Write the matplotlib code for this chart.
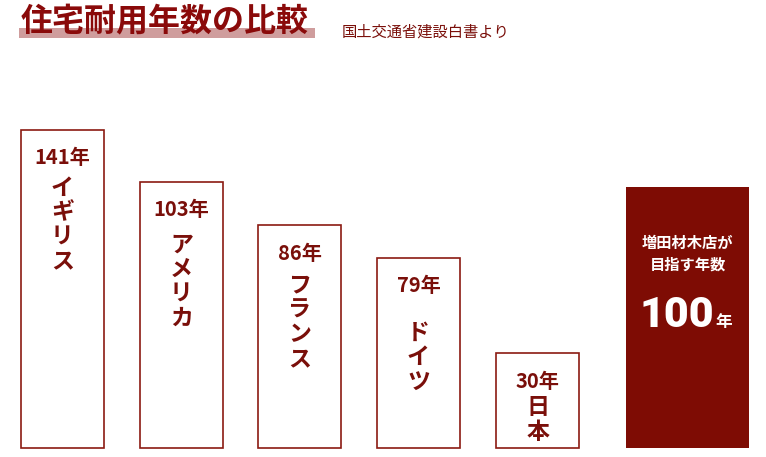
import matplotlib.pyplot as plt
from matplotlib.patches import Rectangle

plt.rcParams['font.family'] = ['Noto Sans CJK JP', 'DejaVu Sans']

countries = ["イギリス", "アメリカ", "フランス", "ドイツ", "日本"]
years = [141, 103, 86, 79, 30]
# drawn heights as they appear in the picture (not to scale with years)
bar_heights = [318, 266, 223, 190, 95]
goal_years = 100
goal_height = 261
goal_caption = ["増田材木店が", "目指す年数"]

dark_red = "#7e0c04"
text_red = "#7a0f0a"

fig = plt.figure(figsize=(7.66, 4.57), dpi=100)
ax = fig.add_axes([0, 0, 1, 1])
ax.set_xlim(0, 766)
ax.set_ylim(-9, 448)
ax.axis("off")

lefts = [21, 140, 258, 377, 496]
width = 83
ax.bar(lefts, bar_heights, width=width, align="edge", color="white",
       edgecolor="#8b1a12", linewidth=1.2)
ax.bar([626], [goal_height], width=123, align="edge", color=dark_red,
       edgecolor=dark_red, linewidth=0)

name_gap = [30, 35, 33, 47, 27]
for i, (name, yr, h) in enumerate(zip(countries, years, bar_heights)):
    cx = lefts[i] + width / 2
    top = h
    ax.text(cx, top - 28, f"{yr}年", ha="center", va="center",
            fontsize=14.5, fontweight="bold", color=text_red)
    y0 = top - 28 - name_gap[i]
    for j, ch in enumerate(name):
        ax.text(cx, y0 - j * 24.5, ch, ha="center", va="center",
                fontsize=16.5, fontweight="bold", color=text_red)

gx = 626 + 123 / 2
ax.text(gx, 448 - 243, goal_caption[0], ha="center", va="center",
        fontsize=11, fontweight="bold", color="white")
ax.text(gx, 448 - 265, goal_caption[1], ha="center", va="center",
        fontsize=11, fontweight="bold", color="white")
ax.text(677, 448 - 327, str(goal_years), ha="center", va="baseline",
        fontsize=31, fontweight="heavy", color="white",
        family=["Roboto", "DejaVu Sans"])
ax.text(724, 448 - 327, "年", ha="center", va="baseline",
        fontsize=12, fontweight="bold", color="white")

# title with highlight band
ax.add_patch(Rectangle((19, 448 - 38), 296, 10, color="#cf9d9d", lw=0))
ax.text(21, 448 - 21, "住宅耐用年数の比較", ha="left", va="center",
        fontsize=23, fontweight="bold", color="#8a0a0a")
ax.text(342, 448 - 32, "国土交通省建設白書より", ha="left", va="center",
        fontsize=11, color=text_red)

fig.savefig("out.png", dpi=100)
